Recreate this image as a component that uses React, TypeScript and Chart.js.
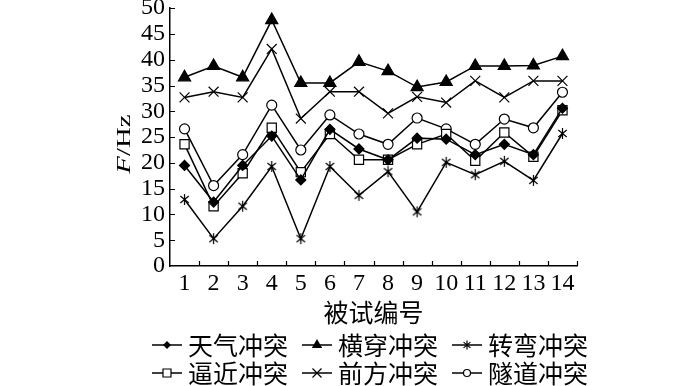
import React, { useEffect, useRef } from 'react';
import { Chart, registerables } from 'chart.js';

Chart.register(...registerables);

const categories = ['1', '2', '3', '4', '5', '6', '7', '8', '9', '10', '11', '12', '13', '14'];
const seriesNames = ['天气冲突', '横穿冲突', '转弯冲突', '逼近冲突', '前方冲突', '隧道冲突'];
const weatherValues = [19.5, 12.4, 19.5, 25.2, 16.7, 26.5, 22.7, 20.6, 24.8, 24.6, 21.6, 23.6, 21.6, 30.6];
const crossingValues = [36.6, 38.8, 36.6, 47.7, 35.5, 35.5, 39.6, 37.8, 34.7, 35.7, 38.8, 38.8, 38.9, 40.7];
const turningValues = [12.9, 5.3, 11.6, 19.3, 5.3, 19.3, 13.7, 18.3, 10.5, 20.1, 17.7, 20.3, 16.6, 25.7];
const approachValues = [23.6, 11.6, 18.0, 26.8, 18.2, 25.6, 20.6, 20.6, 23.6, 25.6, 20.4, 25.9, 21.2, 30.2];
const frontValues = [32.7, 33.8, 32.7, 42.1, 28.6, 33.8, 33.8, 29.6, 32.8, 31.7, 35.9, 32.7, 35.9, 35.9];
const tunnelValues = [26.6, 15.6, 21.6, 31.2, 22.5, 29.3, 25.6, 23.6, 28.7, 26.6, 23.6, 28.5, 26.8, 33.7];
const yMin = 0;
const yMax = 50;
const yStep = 5;
const xTitle = '被试编号';

const SERIF = "'Liberation Serif', 'Times New Roman', serif";
const CJK = "'Noto Sans CJK SC', 'Liberation Serif', sans-serif";

function drawMarker(ctx: CanvasRenderingContext2D, style: string, x: number, y: number, r: number) {
  ctx.save();
  ctx.strokeStyle = '#000';
  ctx.fillStyle = '#000';
  ctx.lineWidth = 1.2;
  ctx.beginPath();
  switch (style) {
    case 'diamond':
      ctx.moveTo(x, y - r);
      ctx.lineTo(x + r, y);
      ctx.lineTo(x, y + r);
      ctx.lineTo(x - r, y);
      ctx.closePath();
      ctx.fill();
      break;
    case 'triangle':
      ctx.moveTo(x, y - r);
      ctx.lineTo(x + r * 0.866, y + r / 2);
      ctx.lineTo(x - r * 0.866, y + r / 2);
      ctx.closePath();
      ctx.fill();
      break;
    case 'asterisk':
      for (const a of [90, 40, 140]) {
        const rad = (a * Math.PI) / 180;
        ctx.moveTo(x - Math.cos(rad) * r, y - Math.sin(rad) * r);
        ctx.lineTo(x + Math.cos(rad) * r, y + Math.sin(rad) * r);
      }
      ctx.stroke();
      break;
    case 'square':
      ctx.fillStyle = '#fff';
      ctx.rect(x - r, y - r, 2 * r, 2 * r);
      ctx.fill();
      ctx.stroke();
      break;
    case 'cross':
      ctx.moveTo(x - r, y - r);
      ctx.lineTo(x + r, y + r);
      ctx.moveTo(x + r, y - r);
      ctx.lineTo(x - r, y + r);
      ctx.stroke();
      break;
    case 'circle':
      ctx.fillStyle = '#fff';
      ctx.arc(x, y, r, 0, Math.PI * 2);
      ctx.fill();
      ctx.stroke();
      break;
  }
  ctx.restore();
}

function asteriskImage(size: number): HTMLCanvasElement {
  const c = document.createElement('canvas');
  c.width = size;
  c.height = size;
  const ctx = c.getContext('2d')!;
  drawMarker(ctx, 'asterisk', size / 2, size / 2, size / 2 - 1);
  return c;
}

const legendStyles = ['diamond', 'triangle', 'asterisk', 'square', 'cross', 'circle'];
const legendSizes = [4, 6, 4.5, 4, 4.5, 3.5];

const annotatePlugin = {
  id: 'annotate',
  afterDraw(chart: any) {
    const ctx: CanvasRenderingContext2D = chart.ctx;
    const xs = chart.scales.x;
    const ys = chart.scales.y;
    const area = chart.chartArea;
    ctx.save();
    ctx.strokeStyle = '#000';
    ctx.lineWidth = 1.2;
    ctx.beginPath();
    for (let v = yMin + yStep; v <= yMax; v += yStep) {
      const py = Math.round(ys.getPixelForValue(v)) + 0.5;
      ctx.moveTo(area.left, py);
      ctx.lineTo(area.left + 5, py);
    }
    const step = xs.getPixelForValue(1) - xs.getPixelForValue(0);
    for (let i = 0; i < categories.length; i++) {
      const px = Math.round(xs.getPixelForValue(i) + step / 2) + 0.5;
      ctx.moveTo(px, area.bottom);
      ctx.lineTo(px, area.bottom - 5);
    }
    ctx.stroke();

    // y title: italic F + /Hz
    ctx.fillStyle = '#000';
    ctx.save();
    ctx.translate(area.left - 45.5, (area.top + area.bottom) / 2 + 7);
    ctx.rotate(-Math.PI / 2);
    ctx.scale(1.2, 0.8);
    ctx.textBaseline = 'middle';
    ctx.textAlign = 'left';
    ctx.font = `italic 24px ${SERIF}`;
    const wF = ctx.measureText('F').width;
    ctx.font = `24px ${SERIF}`;
    const wR = ctx.measureText('/Hz').width;
    const x0 = -(wF + wR) / 2;
    ctx.font = `italic 24px ${SERIF}`;
    ctx.fillText('F', x0, 0);
    ctx.font = `24px ${SERIF}`;
    ctx.fillText('/Hz', x0 + wF, 0);
    ctx.restore();

    // x title
    ctx.font = `25px ${CJK}`;
    ctx.textAlign = 'center';
    ctx.textBaseline = 'middle';
    ctx.fillText(xTitle, (area.left + area.right) / 2, area.bottom + 46);

    // legend
    const cols = [area.left - 18, area.left + 132, area.left + 282];
    const rows = [area.bottom + 79, area.bottom + 107];
    ctx.textAlign = 'left';
    for (let i = 0; i < seriesNames.length; i++) {
      const cx = cols[i % 3];
      const cy = rows[Math.floor(i / 3)];
      ctx.strokeStyle = '#000';
      ctx.lineWidth = 1.5;
      ctx.beginPath();
      ctx.moveTo(cx, cy);
      ctx.lineTo(cx + 30, cy);
      ctx.stroke();
      drawMarker(ctx, legendStyles[i], cx + 15, cy, legendSizes[i]);
      ctx.fillStyle = '#000';
      ctx.font = `25px ${CJK}`;
      ctx.fillText(seriesNames[i], cx + 36, cy);
    }
    ctx.restore();
  },
};

export default function App() {
  const ref = useRef<HTMLCanvasElement>(null);
  useEffect(() => {
    const star = asteriskImage(13);
    const base = {
      borderColor: '#000',
      borderWidth: 1.5,
      pointBorderColor: '#000',
      pointBorderWidth: 1.2,
      tension: 0,
    };
    const chart = new Chart(ref.current!, {
      type: 'line',
      data: {
        labels: categories,
        datasets: [
          { ...base, label: seriesNames[0], data: weatherValues, pointStyle: 'rectRot', pointRadius: 5, pointBackgroundColor: '#000' },
          { ...base, label: seriesNames[1], data: crossingValues, pointStyle: 'triangle', pointRadius: 7, pointBackgroundColor: '#000' },
          { ...base, label: seriesNames[2], data: turningValues, pointStyle: star as any, pointRadius: 6 },
          { ...base, label: seriesNames[3], data: approachValues, pointStyle: 'rect', pointRadius: 6.5, pointBackgroundColor: '#fff' },
          { ...base, label: seriesNames[4], data: frontValues, pointStyle: 'crossRot', pointRadius: 7 },
          { ...base, label: seriesNames[5], data: tunnelValues, pointStyle: 'circle', pointRadius: 5, pointBackgroundColor: '#fff' },
        ],
      },
      options: {
        responsive: false,
        animation: false,
        layout: { padding: { left: 0, right: 123, top: 8, bottom: 0 } },
        plugins: { legend: { display: false }, tooltip: { enabled: false } },
        scales: {
          x: {
            type: 'category',
            offset: true,
            grid: { display: false, drawTicks: false },
            border: { display: true, color: '#000', width: 1.5 },
            ticks: { color: '#000', font: { family: SERIF, size: 24 }, padding: 3, autoSkip: false, maxRotation: 0 },
            afterFit: (s: any) => {
              s.height = 120;
              s.paddingLeft = 0;
              s.paddingRight = 0;
            },
          },
          y: {
            min: yMin,
            max: yMax,
            grid: { display: false, drawTicks: false },
            border: { display: true, color: '#000', width: 1.5 },
            ticks: { stepSize: yStep, autoSkip: false, color: '#000', font: { family: SERIF, size: 24, lineHeight: 1 }, padding: 5 },
            afterFit: (s: any) => {
              s.width = 170;
              s.paddingTop = 0;
              s.paddingBottom = 0;
            },
          },
        },
      },
      plugins: [annotatePlugin],
    } as any);
    return () => chart.destroy();
  }, []);
  return (
    <div style={{ position: 'fixed', left: 0, top: 0, width: 700, height: 386, background: '#fff' }}>
      <canvas ref={ref} width={700} height={386} style={{ display: 'block' }} />
    </div>
  );
}
